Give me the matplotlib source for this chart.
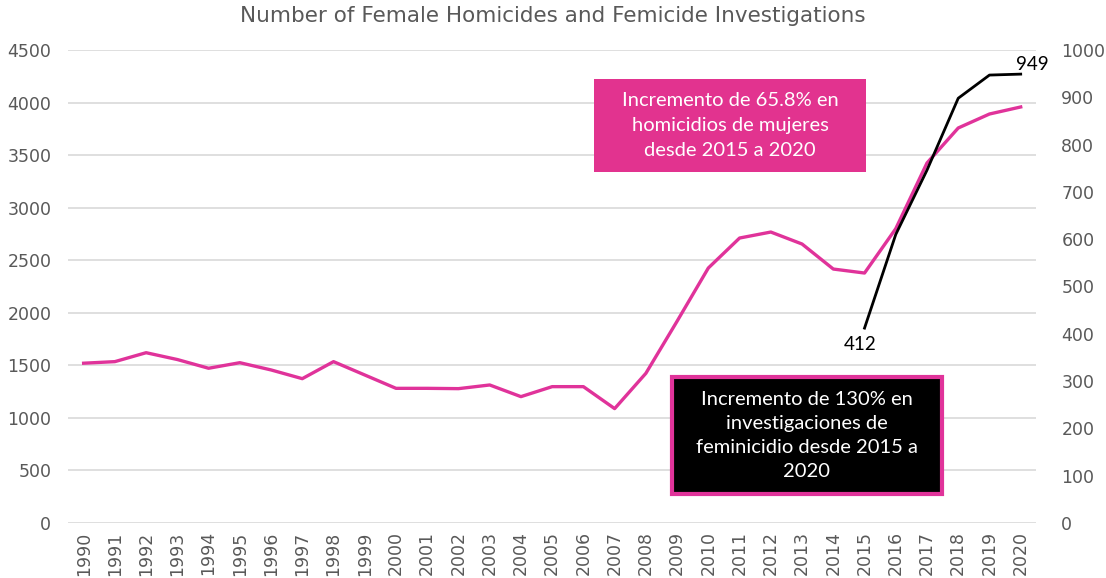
# homicidios de mujeres vs investigaciones de feminicidio, 1990-2020
import matplotlib.pyplot as plt
from matplotlib.patches import Rectangle

years = list(range(1990, 2021))
homicides = [1520, 1535, 1620, 1555, 1472, 1525, 1456, 1373, 1535, 1408,
             1281, 1281, 1278, 1313, 1202, 1297, 1297, 1088, 1424, 1920,
             2426, 2711, 2768, 2654, 2416, 2378, 2800, 3425, 3758, 3891, 3958]
inv_years = [2015, 2016, 2017, 2018, 2019, 2020]
investigations = [412, 610, 746, 898, 947, 949]

left_ticks = list(range(0, 4501, 500))
right_ticks = list(range(0, 1001, 100))

PINK, GREY, GRID = "#E0339A", "#595959", "#D9D9D9"
BOXFONT = "Lato"

fig = plt.figure(figsize=(11.06, 5.78), dpi=100)
ax = fig.add_axes([0.0615, 0.0952, 0.8755, 0.8183])
ax2 = ax.twinx()

ax.plot(years, homicides, color=PINK, lw=2.4, solid_joinstyle="round", zorder=3)
ax2.plot(inv_years, investigations, color="black", lw=2.0, zorder=4)

ax.set_xlim(1989.5, 2020.5)
ax.set_ylim(0, 4500)
ax2.set_ylim(0, 1000)
ax.set_yticks(left_ticks)
ax2.set_yticks(right_ticks)
ax.set_xticks(years, [str(y) for y in years], rotation=90)
ax.grid(axis="y", color=GRID, lw=1.2)
ax.set_axisbelow(True)
for a in (ax, ax2):
    for s in a.spines.values():
        s.set_visible(False)
    a.tick_params(length=0, colors=GREY, labelsize=12.5)
ax.tick_params(axis="y", pad=12)
ax2.tick_params(axis="y", pad=18)
ax.tick_params(axis="x", pad=6)

fig.suptitle("Number of Female Homicides and Femicide Investigations",
             x=0.5, y=0.99, color=GREY, fontsize=15.5)

ax2.annotate(str(investigations[0]), (inv_years[0], investigations[0]),
             xytext=(-3, -6), textcoords="offset points", ha="center", va="top",
             fontsize=13.5, family=BOXFONT, color="black")
ax2.annotate(str(investigations[-1]), (inv_years[-1], investigations[-1]),
             xytext=(8, 1), textcoords="offset points", ha="center", va="bottom",
             fontsize=13.5, family=BOXFONT, color="black")

# cuadros de texto
fig.patches.append(Rectangle((0.537, 0.7024), 0.246, 0.161, transform=fig.transFigure,
                             fc="#E2338F", ec="none", zorder=5))
fig.text(0.660, 0.783, "Incremento de 65.8% en\nhomicidios de mujeres\ndesde 2015 a 2020",
         ha="center", va="center", color="white", fontsize=14.5, family=BOXFONT,
         linespacing=1.6, zorder=6)
fig.patches.append(Rectangle((0.6072, 0.1445), 0.2444, 0.2041, transform=fig.transFigure,
                             fc="black", ec=PINK, lw=3, zorder=5))
fig.text(0.7294, 0.2465, "Incremento de 130% en\ninvestigaciones de\nfeminicidio desde 2015 a\n2020",
         ha="center", va="center", color="white", fontsize=14.5, family=BOXFONT,
         linespacing=1.5, zorder=6)

fig.savefig("out.png", dpi=100)
